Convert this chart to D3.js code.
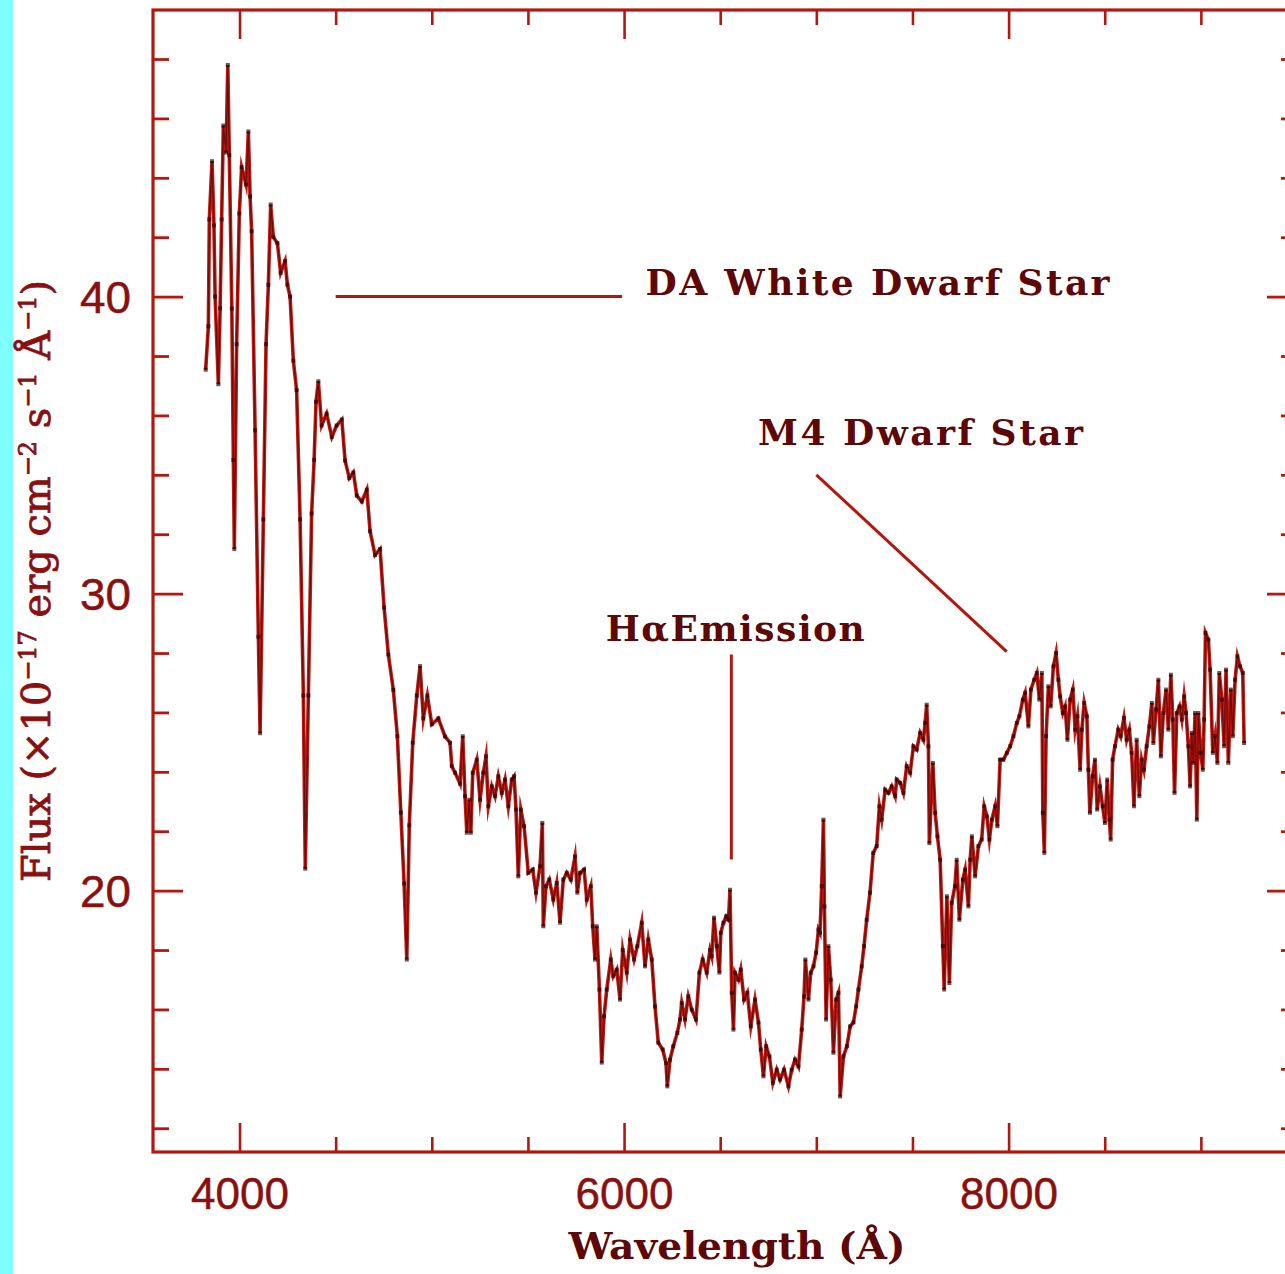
<!DOCTYPE html>
<html>
<head>
<meta charset="utf-8">
<script src="https://cdn.jsdelivr.net/npm/d3@7"></script>
<style>
  html, body { margin: 0; padding: 0; background: #ffffff; }
  svg { display: block; }
</style>
</head>
<body>
<script>
// Spectrum of a DA white dwarf + M4 dwarf pair: wavelength (Å) and flux (1e-17 erg/cm2/s/Å)
const wavelength = [
  3824, 3838, 3843, 3857, 3867, 3873, 3890, 3899, 3907, 3916, 3930, 3939, 3947, 3960, 3968, 3973,
  3985, 3999, 4011, 4034, 4046, 4055, 4063, 4081, 4098, 4107, 4124, 4138, 4150, 4162, 4176, 4197,
  4214, 4237, 4249, 4263, 4280, 4297, 4315, 4332, 4342, 4358, 4375, 4388, 4398, 4410, 4427, 4453,
  4480, 4505, 4532, 4549, 4571, 4592, 4610, 4636, 4662, 4679, 4705, 4731, 4752, 4774, 4800, 4821,
  4839, 4856, 4870, 4883, 4901, 4922, 4939, 4956, 4977, 5000, 5034, 5069, 5095, 5104, 5121, 5147,
  5161, 5173, 5182, 5195, 5203, 5213, 5234, 5251, 5268, 5282, 5294, 5312, 5329, 5346, 5364, 5381,
  5398, 5416, 5428, 5438, 5450, 5463, 5480, 5502, 5525, 5542, 5563, 5575, 5580, 5594, 5611, 5632,
  5650, 5667, 5684, 5702, 5723, 5745, 5757, 5771, 5792, 5806, 5827, 5837, 5849, 5858, 5872, 5884,
  5896, 5910, 5931, 5944, 5962, 5979, 5993, 6014, 6031, 6052, 6069, 6092, 6109, 6126, 6144, 6161,
  6178, 6201, 6218, 6225, 6239, 6256, 6277, 6291, 6300, 6317, 6334, 6352, 6374, 6392, 6409, 6430,
  6447, 6456, 6468, 6482, 6496, 6503, 6517, 6531, 6543, 6551, 6560, 6569, 6577, 6595, 6607, 6624,
  6641, 6659, 6681, 6699, 6711, 6725, 6739, 6756, 6774, 6794, 6811, 6832, 6855, 6872, 6889, 6907,
  6924, 6936, 6943, 6959, 6971, 6985, 6999, 7011, 7019, 7028, 7037, 7042, 7051, 7063, 7075, 7089,
  7103, 7115, 7124, 7141, 7159, 7176, 7193, 7207, 7219, 7236, 7248, 7262, 7279, 7296, 7314, 7328,
  7340, 7358, 7375, 7392, 7410, 7418, 7436, 7453, 7470, 7488, 7505, 7522, 7540, 7557, 7566, 7574,
  7583, 7588, 7606, 7618, 7630, 7644, 7658, 7665, 7679, 7692, 7704, 7721, 7730, 7744, 7762, 7774,
  7791, 7800, 7809, 7826, 7843, 7860, 7873, 7887, 7900, 7913, 7930, 7942, 7956, 7973, 7991, 8008,
  8025, 8043, 8056, 8074, 8086, 8103, 8116, 8133, 8147, 8160, 8173, 8178, 8186, 8195, 8207, 8219,
  8233, 8247, 8259, 8268, 8282, 8294, 8306, 8320, 8334, 8346, 8358, 8372, 8381, 8393, 8407, 8415,
  8423, 8437, 8449, 8461, 8475, 8489, 8501, 8513, 8524, 8531, 8541, 8553, 8570, 8583, 8600, 8614,
  8628, 8640, 8652, 8666, 8680, 8692, 8704, 8718, 8732, 8745, 8753, 8767, 8779, 8792, 8805, 8819,
  8831, 8844, 8854, 8863, 8875, 8889, 8901, 8913, 8923, 8935, 8944, 8953, 8961, 8970, 8979, 8987,
  8999, 9010, 9017, 9024, 9039, 9048, 9062, 9074, 9086, 9096, 9109, 9121, 9131, 9143, 9156, 9166,
  9178, 9190, 9204, 9218, 9225
];
const flux = [
  37.54, 39.0, 42.6, 44.56, 42.4, 40.0, 37.05, 39.6, 42.6, 45.76, 44.85, 47.8, 44.76, 39.6, 34.5, 31.5,
  38.4, 42.8, 44.36, 43.77, 45.56, 43.37, 42.2, 35.5, 28.55, 25.3, 32.5, 38.4, 40.4, 43.1, 42.0, 41.8,
  40.8, 41.2, 40.4, 40.0, 37.84, 36.85, 32.5, 26.57, 20.74, 26.57, 32.7, 34.5, 36.46, 37.15, 35.66, 36.06,
  35.27, 35.66, 35.86, 34.48, 33.89, 34.08, 33.3, 33.1, 33.5, 32.1, 31.3, 31.5, 29.53, 27.95, 26.76, 25.2,
  22.63, 20.24, 17.68, 22.2, 24.98, 26.57, 27.56, 25.8, 26.57, 25.6, 25.8, 25.19, 24.98, 24.19, 23.97, 23.6,
  25.2, 23.18, 21.95, 23.06, 21.95, 23.97, 24.41, 23.06, 23.97, 24.52, 22.84, 23.51, 23.18, 23.85, 23.29, 23.74,
  22.84, 23.74, 23.85, 22.73, 20.48, 22.73, 22.17, 20.6, 20.71, 19.93, 20.82, 22.28, 18.8, 20.15, 20.37, 19.7,
  20.26, 18.92, 20.37, 20.6, 20.37, 21.15, 19.93, 20.6, 20.71, 19.7, 20.15, 18.8, 17.68, 18.8, 16.67, 14.21,
  15.77, 16.67, 17.68, 17.12, 17.34, 16.33, 18.0, 17.24, 18.35, 17.68, 18.13, 18.92, 17.45, 18.35, 17.68, 16.1,
  14.88, 14.65, 14.2, 13.41, 14.31, 14.76, 15.21, 15.66, 16.22, 15.66, 16.44, 15.99, 15.66, 17.24, 17.68, 17.24,
  18.0, 17.79, 19.09, 18.13, 17.24, 18.58, 18.92, 19.13, 19.02, 20.03, 16.56, 15.32, 17.24, 17.0, 17.34, 16.33,
  16.56, 15.43, 16.33, 15.56, 14.65, 13.75, 14.76, 14.42, 13.53, 13.97, 13.64, 13.97, 13.41, 13.97, 14.31, 14.08,
  15.32, 16.44, 17.68, 16.33, 17.24, 17.45, 17.91, 18.69, 18.58, 20.15, 22.39, 19.47, 15.66, 18.13, 17.0, 14.54,
  16.33, 16.56, 13.07, 14.42, 14.76, 15.43, 15.56, 16.1, 16.67, 17.45, 18.13, 19.02, 19.93, 21.27, 21.5, 22.84,
  22.39, 23.4, 23.29, 23.51, 23.18, 23.74, 23.63, 23.29, 24.19, 23.97, 24.86, 24.75, 25.31, 25.08, 25.65, 26.26,
  24.86, 21.6, 24.3, 22.62, 21.83, 21.04, 18.13, 16.67, 19.81, 16.89, 19.59, 20.15, 21.04, 19.02, 20.37, 20.71,
  19.47, 21.04, 21.83, 20.48, 21.5, 21.72, 22.84, 22.5, 21.72, 22.39, 22.84, 22.17, 24.41, 24.41, 24.64, 24.86,
  25.2, 25.65, 25.87, 26.43, 26.66, 25.53, 26.77, 27.1, 27.33, 26.43, 27.33, 22.62, 21.27, 25.2, 26.88, 26.2,
  27.55, 28.0, 27.1, 26.54, 25.98, 26.2, 25.08, 26.43, 26.77, 25.42, 25.87, 24.07, 25.42, 26.32, 25.87, 24.07,
  22.62, 23.85, 24.41, 22.73, 23.51, 22.84, 22.28, 23.74, 22.39, 21.72, 24.41, 24.86, 25.42, 25.2, 25.82, 25.08,
  25.42, 24.64, 22.84, 25.08, 23.18, 24.41, 24.07, 24.86, 25.53, 26.32, 24.97, 26.1, 27.1, 24.52, 25.98, 26.77,
  25.42, 27.27, 25.76, 23.29, 25.98, 26.2, 25.76, 26.54, 25.98, 24.86, 23.51, 25.31, 24.3, 25.98, 22.39, 25.98,
  24.64, 24.07, 25.76, 28.68, 28.45, 27.44, 24.64, 25.2, 24.3, 27.33, 26.43, 24.86, 27.44, 24.3, 26.77, 25.2,
  27.1, 27.89, 27.55, 27.33, 24.97
];

// Axis ranges and ticks
const xDomain = [3550, 9500];
const yDomain = [11.2, 49.65];
const xMajorTicks = [4000, 6000, 8000];
const xMinorTicks = [4500, 5000, 5500, 6500, 7000, 7500, 8500, 9000];
const yMajorTicks = [20, 30, 40];
const yMinorTicks = [12, 14, 16, 18, 22, 24, 26, 28, 32, 34, 36, 38, 42, 44, 46, 48];

// Annotations: label text, its left baseline point, and the pointer segment (data units)
const annotationLabels = ["DA White Dwarf Star", "M4 Dwarf Star", "H\u03b1Emission"];
const annotationLabelPos = [[6112, 40.05], [6697, 35.0], [5905, 28.4]];
const annotationLabelWidth = [464, 325, 259];
const annotationLines = [
  [[4500, 40], [5990, 40]],
  [[7000, 34], [7990, 28.05]],
  [[6558, 27.95], [6558, 21.05]]
];

const W = 1285, H = 1274;
const plot = { left: 153, right: 1297, top: 10, bottom: 1152 };
const axisColor = "#b3170f";
const labelColor = "#8a1010";
const noteColor = "#5e0707";

const svg = d3.select("body").append("svg")
  .attr("width", W).attr("height", H)
  .attr("viewBox", `0 0 ${W} ${H}`);

svg.append("rect").attr("width", W).attr("height", H).attr("fill", "#ffffff");
// cyan page margin on the left
svg.append("rect").attr("x", 0).attr("y", 0).attr("width", 13).attr("height", H).attr("fill", "#80ffff");

const x = d3.scaleLinear().domain(xDomain).range([plot.left, plot.right]);
const y = d3.scaleLinear().domain(yDomain).range([plot.bottom, plot.top]);

function styleAxis(g, width) {
  g.select(".domain").remove();
  g.selectAll(".tick line").attr("stroke", axisColor).attr("stroke-width", width);
}

// bottom axis: major ticks with labels, minor ticks without
svg.append("g").attr("transform", `translate(0,${plot.bottom})`)
  .call(d3.axisBottom(x).tickValues(xMajorTicks).tickSize(-29).tickPadding(25).tickFormat(d3.format("d")))
  .call(g => {
    styleAxis(g, 2.6);
    g.selectAll(".tick text")
      .attr("fill", labelColor)
      .attr("font-family", "'Liberation Sans', Arial, sans-serif")
      .attr("font-size", 45)
      .attr("stroke", labelColor)
      .attr("stroke-width", 0.5)
      .attr("textLength", 98)
      .attr("lengthAdjust", "spacingAndGlyphs");
  });
svg.append("g").attr("transform", `translate(0,${plot.bottom})`)
  .call(d3.axisBottom(x).tickValues(xMinorTicks).tickSize(-15).tickFormat(""))
  .call(g => styleAxis(g, 2.6));

// top axis
svg.append("g").attr("transform", `translate(0,${plot.top})`)
  .call(d3.axisTop(x).tickValues(xMajorTicks).tickSize(-29).tickFormat(""))
  .call(g => styleAxis(g, 2.6));
svg.append("g").attr("transform", `translate(0,${plot.top})`)
  .call(d3.axisTop(x).tickValues(xMinorTicks).tickSize(-15).tickFormat(""))
  .call(g => styleAxis(g, 2.6));

// left axis
svg.append("g").attr("transform", `translate(${plot.left},0)`)
  .call(d3.axisLeft(y).tickValues(yMajorTicks).tickSize(-30).tickPadding(22).tickFormat(d3.format("d")))
  .call(g => {
    styleAxis(g, 2.8);
    g.selectAll(".tick text")
      .attr("fill", labelColor)
      .attr("font-family", "'Liberation Sans', Arial, sans-serif")
      .attr("font-size", 45)
      .attr("stroke", labelColor)
      .attr("stroke-width", 0.5)
      .attr("dy", "0.36em")
      .attr("textLength", 51)
      .attr("lengthAdjust", "spacingAndGlyphs");
  });
svg.append("g").attr("transform", `translate(${plot.left},0)`)
  .call(d3.axisLeft(y).tickValues(yMinorTicks).tickSize(-16).tickFormat(""))
  .call(g => styleAxis(g, 2.8));

// right axis
svg.append("g").attr("transform", `translate(${plot.right},0)`)
  .call(d3.axisRight(y).tickValues(yMajorTicks).tickSize(-30).tickFormat(""))
  .call(g => styleAxis(g, 2.8));
svg.append("g").attr("transform", `translate(${plot.right},0)`)
  .call(d3.axisRight(y).tickValues(yMinorTicks).tickSize(-16).tickFormat(""))
  .call(g => styleAxis(g, 2.8));

// plot frame
svg.append("rect")
  .attr("x", plot.left).attr("y", plot.top)
  .attr("width", plot.right - plot.left).attr("height", plot.bottom - plot.top)
  .attr("fill", "none").attr("stroke", axisColor).attr("stroke-width", 3.2);

// the spectrum
const spectrum = wavelength.map((w, i) => [w, flux[i]]);
const line = d3.line().x(d => x(d[0])).y(d => y(d[1]));

svg.append("path")
  .datum(spectrum)
  .attr("d", line)
  .attr("fill", "none")
  .attr("stroke", "#c01a12")
  .attr("stroke-width", 3.6)
  .attr("stroke-linejoin", "miter")
  .attr("stroke-miterlimit", 10);

// darker core of the trace
svg.append("path")
  .datum(spectrum)
  .attr("d", line)
  .attr("fill", "none")
  .attr("stroke", "#2a0000")
  .attr("stroke-width", 1.3)
  .attr("stroke-opacity", 0.55);

svg.append("g")
  .selectAll("rect")
  .data(spectrum)
  .join("rect")
  .attr("x", d => x(d[0]) - 2)
  .attr("y", d => y(d[1]) - 2)
  .attr("width", 4)
  .attr("height", 4)
  .attr("fill", "#200000")
  .attr("fill-opacity", 0.65);

// annotation pointers
svg.append("g")
  .selectAll("line")
  .data(annotationLines)
  .join("line")
  .attr("x1", d => x(d[0][0])).attr("y1", d => y(d[0][1]))
  .attr("x2", d => x(d[1][0])).attr("y2", d => y(d[1][1]))
  .attr("stroke", axisColor)
  .attr("stroke-width", 3);

// annotation labels
svg.append("g")
  .selectAll("text")
  .data(annotationLabels)
  .join("text")
  .attr("x", (d, i) => x(annotationLabelPos[i][0]))
  .attr("y", (d, i) => y(annotationLabelPos[i][1]))
  .attr("font-family", "'DejaVu Serif', serif")
  .attr("font-weight", "bold")
  .attr("font-size", 36)
  .attr("fill", noteColor)
  .attr("textLength", (d, i) => annotationLabelWidth[i])
  .attr("lengthAdjust", "spacing")
  .text(d => d);

// x-axis title
svg.append("text")
  .attr("x", 737)
  .attr("y", 1259)
  .attr("text-anchor", "middle")
  .attr("font-family", "'DejaVu Serif', serif")
  .attr("font-weight", "bold")
  .attr("font-size", 38)
  .attr("fill", noteColor)
  .attr("textLength", 337)
  .attr("lengthAdjust", "spacingAndGlyphs")
  .text("Wavelength (\u00c5)");

// y-axis title with superscript exponents
const yTitle = svg.append("text")
  .attr("transform", "translate(50,581) rotate(-90)")
  .attr("text-anchor", "middle")
  .attr("font-family", "'DejaVu Serif', serif")
  .attr("font-size", 40)
  .attr("fill", labelColor)
  .attr("stroke", labelColor)
  .attr("stroke-width", 0.8)
  .attr("textLength", 602)
  .attr("lengthAdjust", "spacingAndGlyphs");

const yTitleParts = [
  ["Flux (\u00d710", false], ["\u221217", true], [" erg cm", false], ["\u22122", true],
  [" s", false], ["\u22121", true], [" \u00c5", false], ["\u22121", true], [")", false]
];
yTitleParts.forEach(([t, sup], i) => {
  const prevSup = i > 0 && yTitleParts[i - 1][1];
  yTitle.append("tspan")
    .attr("font-size", sup ? 24 : 40)
    .attr("dy", sup ? -14 : (prevSup ? 14 : 0))
    .text(t);
});
</script>
</body>
</html>
